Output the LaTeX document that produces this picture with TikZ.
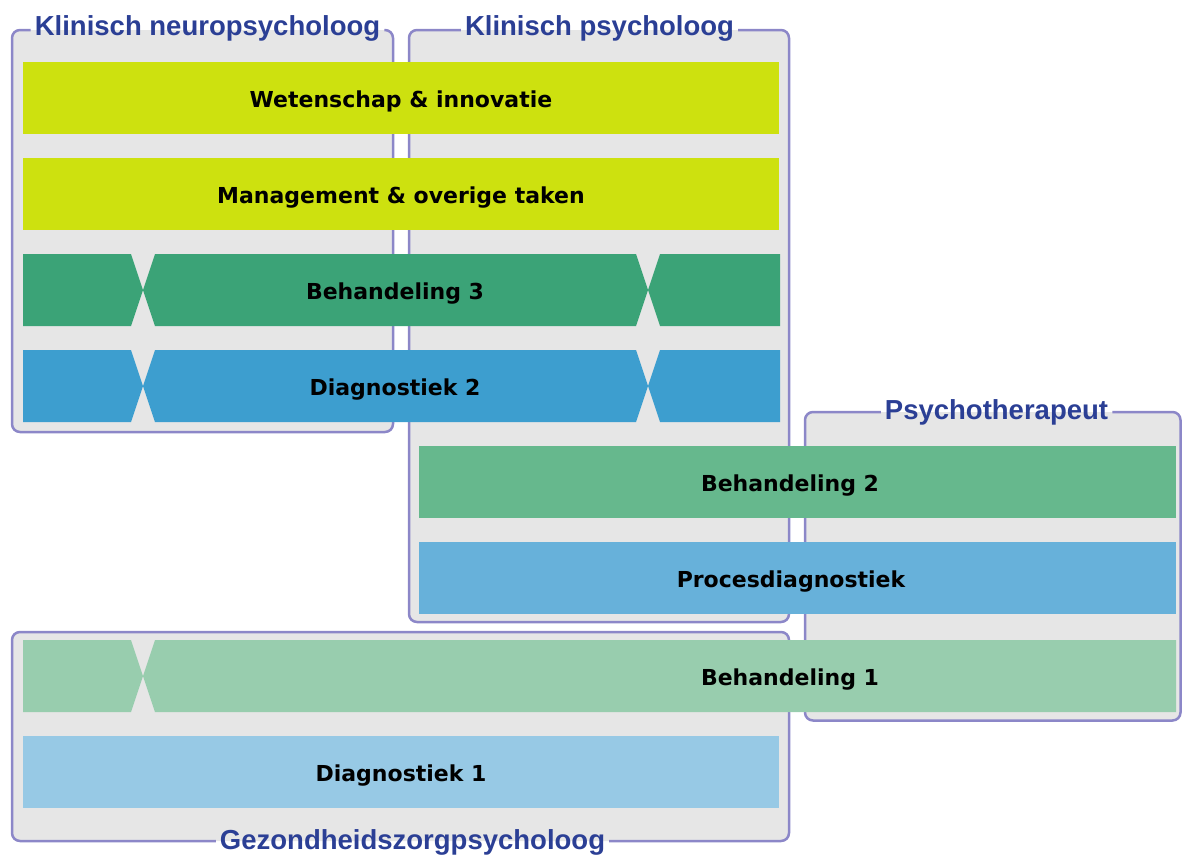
\documentclass[tikz,border=0pt]{standalone}
\usepackage{fontspec}
\setmainfont{Liberation Sans}
\newfontfamily\barfont{DejaVu Sans}
\definecolor{boxgrey}{HTML}{E6E6E6}
\definecolor{boxborder}{HTML}{8C87C8}
\definecolor{labblue}{HTML}{2B3F95}
\definecolor{lime}{HTML}{CDE10F}
\definecolor{greenA}{HTML}{3BA377}
\definecolor{blueA}{HTML}{3D9ECF}
\definecolor{greenB}{HTML}{66B88D}
\definecolor{blueB}{HTML}{67B1DA}
\definecolor{greenC}{HTML}{98CDAE}
\definecolor{blueC}{HTML}{97C9E5}
\tikzset{
  boxfill/.style={fill=boxgrey, rounded corners=8pt},
  boxline/.style={draw=boxborder, line width=2.5pt, rounded corners=8pt},
  lab/.style={text=labblue, font=\bfseries\fontsize{27.5}{30}\selectfont, inner xsep=4pt, inner ysep=0pt, anchor=base},
  bartext/.style={text=black, font=\barfont\bfseries\fontsize{22}{24}\selectfont, inner sep=0pt, anchor=base},
}
\begin{document}
\begin{tikzpicture}[x=1pt,y=-1pt]
\useasboundingbox (0,0) rectangle (1182,855);
% box fills
\fill[boxfill] (12,30) rectangle (393,432);
\fill[boxfill] (409,30) rectangle (789,622);
\fill[boxfill] (805,412) rectangle (1180.5,720.5);
\fill[boxfill] (12,632) rectangle (789,841);
% labels
\node[lab] (kn) at (207.5,35) {Klinisch neuropsycholoog};
\node[lab] (kp) at (599.5,35) {Klinisch psycholoog};
\node[lab] (pt) at (996.5,419) {Psychotherapeut};
\node[lab] (gz) at (412.5,849) {Gezondheidszorgpsycholoog};
% borders with gaps for labels
\draw[boxline] (kn.east |- 0,30) -- (393,30) -- (393,432) -- (12,432) -- (12,30) -- (kn.west |- 0,30);
\draw[boxline] (kp.east |- 0,30) -- (789,30) -- (789,622) -- (409,622) -- (409,30) -- (kp.west |- 0,30);
\draw[boxline] (pt.east |- 0,412) -- (1180.5,412) -- (1180.5,720.5) -- (805,720.5) -- (805,412) -- (pt.west |- 0,412);
\draw[boxline] (gz.west |- 0,841) -- (12,841) -- (12,632) -- (789,632) -- (789,841) -- (gz.east |- 0,841);
% bars
\fill[lime] (23,62) rectangle (779,134);
\node[bartext] (b1) at (401,107) {Wetenschap \& innovatie};
\fill[lime] (23,158) rectangle (779,230);
\node[bartext] (b2) at (401,203) {Management \& overige taken};
% Behandeling 3
\fill[greenA] (23,254) -- (131,254) -- (143,290) -- (131,326) -- (23,326) -- cycle;
\fill[greenA] (155,254) -- (636,254) -- (648,290) -- (636,326) -- (155,326) -- (143,290) -- cycle;
\fill[greenA] (660,254) -- (780,254) -- (780,326) -- (660,326) -- (648,290) -- cycle;
\node[bartext] (b3) at (395,299) {Behandeling 3};
% Diagnostiek 2
\fill[blueA] (23,350) -- (131,350) -- (143,386) -- (131,422) -- (23,422) -- cycle;
\fill[blueA] (155,350) -- (636,350) -- (648,386) -- (636,422) -- (155,422) -- (143,386) -- cycle;
\fill[blueA] (660,350) -- (780,350) -- (780,422) -- (660,422) -- (648,386) -- cycle;
\node[bartext] (b4) at (395,395) {Diagnostiek 2};
% Behandeling 2
\fill[greenB] (419,446) rectangle (1176,518);
\node[bartext] (b5) at (790,491) {Behandeling 2};
% Procesdiagnostiek
\fill[blueB] (419,542) rectangle (1176,614);
\node[bartext] (b6) at (791,587) {Procesdiagnostiek};
% Behandeling 1
\fill[greenC] (23,640) -- (131,640) -- (143,676) -- (131,712) -- (23,712) -- cycle;
\fill[greenC] (155,640) -- (1176,640) -- (1176,712) -- (155,712) -- (143,676) -- cycle;
\node[bartext] (b7) at (790,685) {Behandeling 1};
% Diagnostiek 1
\fill[blueC] (23,736) rectangle (779,808);
\node[bartext] (b8) at (401,781) {Diagnostiek 1};
\end{tikzpicture}
\end{document}
